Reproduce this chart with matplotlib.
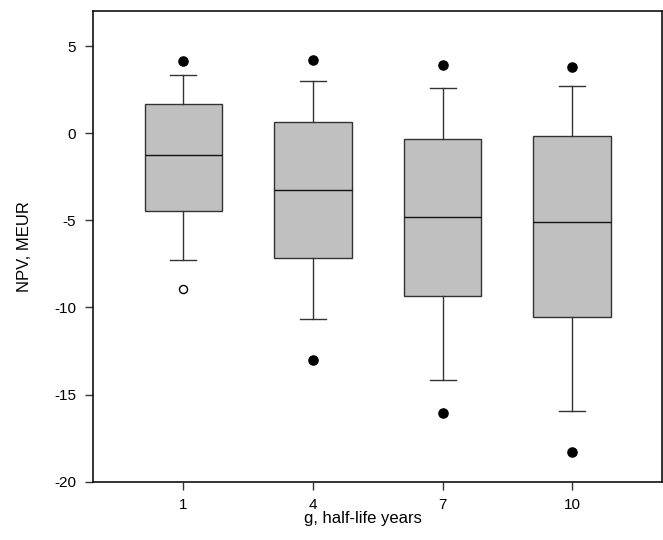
import matplotlib
matplotlib.use('Agg')
import matplotlib.pyplot as plt

plt.rcParams['font.family'] = ['Liberation Sans', 'DejaVu Sans']
plt.rcParams['axes.unicode_minus'] = False

# ── Datos ────────────────────────────────────────────────────────────────────
categorias = ['1', '4', '7', '10']
bigote_sup = [3.35, 3.00, 2.60, 2.70]
q3         = [1.70, 0.65, -0.34, -0.15]
mediana    = [-1.22, -3.25, -4.82, -5.12]
q1         = [-4.47, -7.15, -9.35, -10.56]
bigote_inf = [-7.27, -10.67, -14.15, -15.97]
punto_sup  = [4.15, 4.19, 3.94, 3.80]
punto_inf  = [None, -13.04, -16.06, -18.30]
abiertos   = [[-8.93], [], [], []]

stats = []
for i, cat in enumerate(categorias):
    stats.append({
        'label': cat,
        'med': mediana[i], 'q1': q1[i], 'q3': q3[i],
        'whislo': bigote_inf[i], 'whishi': bigote_sup[i],
        'fliers': [],
    })

fig = plt.figure(figsize=(6.63, 5.40), dpi=100)
ax = fig.add_axes([0.1398, 0.108, 0.858, 0.871])

pos = list(range(1, len(categorias) + 1))
ax.bxp(stats, positions=pos, widths=0.6, patch_artist=True, showfliers=False,
       boxprops=dict(facecolor='#c0c0c0', edgecolor='#333333', linewidth=1.0),
       medianprops=dict(color='#111111', linewidth=1.0),
       whiskerprops=dict(color='#333333', linewidth=1.0),
       capprops=dict(color='#333333', linewidth=1.0),
       capwidths=0.2)

# puntos extremos (percentiles)
ax.plot(pos, punto_sup, 'o', color='black', markersize=6.6, linestyle='none')
xs = [p for p, v in zip(pos, punto_inf) if v is not None]
ys = [v for v in punto_inf if v is not None]
ax.plot(xs, ys, 'o', color='black', markersize=6.6, linestyle='none')
for p, vals in zip(pos, abiertos):
    if vals:
        ax.plot([p] * len(vals), vals, 'o', markerfacecolor='white',
                markeredgecolor='black', markersize=5.8, markeredgewidth=1.0,
                linestyle='none')

ax.set_xlim(0.3, 4.69)
ax.set_ylim(-20, 7)
ax.set_yticks([-20, -15, -10, -5, 0, 5])
ax.set_xticks(pos)
ax.set_xticklabels(categorias)
ax.tick_params(direction='out', length=6, width=1.0, labelsize=11, pad=6,
               color='#333333')
for s in ax.spines.values():
    s.set_linewidth(1.2)
    s.set_color('#111111')

ax.set_ylabel('NPV, MEUR', fontsize=12, labelpad=16)
ax.set_xlabel('g, half-life years', fontsize=12, labelpad=1)
ax.xaxis.set_label_coords(0.475, -0.062)

fig.savefig('out.png', dpi=100, facecolor='white')
